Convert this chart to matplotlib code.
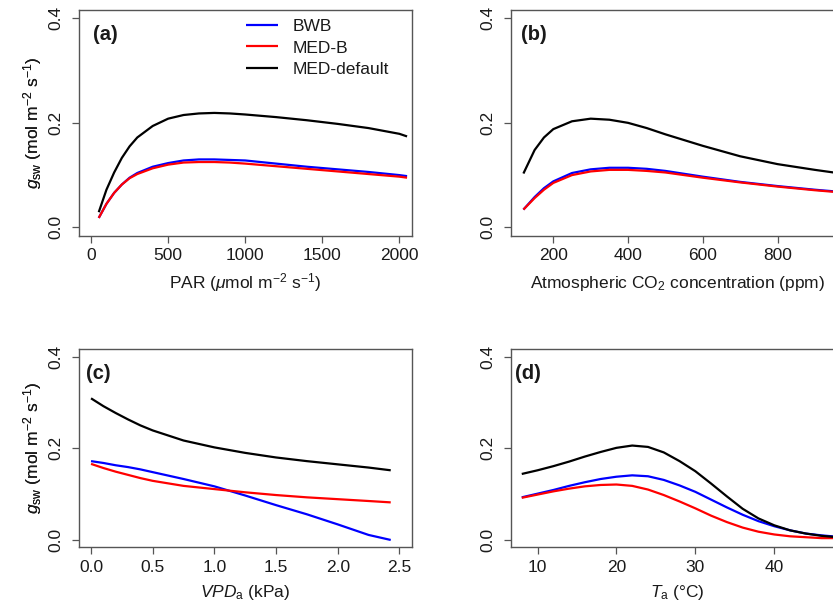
import matplotlib
matplotlib.use("Agg")
import matplotlib.pyplot as plt
from matplotlib.ticker import FixedLocator, FormatStrFormatter

plt.rcParams['font.family'] = ['Liberation Sans', 'DejaVu Sans']
plt.rcParams['mathtext.fontset'] = 'custom'
plt.rcParams['mathtext.rm'] = 'Liberation Sans'
plt.rcParams['mathtext.it'] = 'Liberation Sans:italic'
plt.rcParams['mathtext.bf'] = 'Liberation Sans:bold'

# ---------------- data ----------------
par = [50, 100, 150, 200, 250, 300, 400, 500, 600, 700, 800, 900, 1000, 1200, 1400, 1600, 1800, 2000, 2050]
par_bwb = [0.018, 0.045, 0.066, 0.082, 0.095, 0.104, 0.116, 0.123, 0.128, 0.130, 0.130, 0.129, 0.128, 0.122, 0.116, 0.111, 0.106, 0.100, 0.098]
par_medb = [0.018, 0.045, 0.066, 0.082, 0.094, 0.102, 0.113, 0.120, 0.124, 0.125, 0.125, 0.124, 0.122, 0.117, 0.112, 0.107, 0.102, 0.097, 0.095]
par_medd = [0.029, 0.072, 0.105, 0.133, 0.155, 0.172, 0.194, 0.208, 0.215, 0.218, 0.219, 0.218, 0.216, 0.211, 0.205, 0.198, 0.190, 0.179, 0.174]

co2 = [120, 150, 175, 200, 250, 300, 350, 400, 450, 500, 600, 700, 800, 900, 1000]
co2_bwb = [0.034, 0.058, 0.075, 0.088, 0.104, 0.111, 0.114, 0.114, 0.112, 0.108, 0.097, 0.087, 0.079, 0.072, 0.066]
co2_medb = [0.034, 0.056, 0.072, 0.085, 0.100, 0.107, 0.110, 0.110, 0.108, 0.105, 0.095, 0.086, 0.078, 0.071, 0.065]
co2_medd = [0.103, 0.148, 0.172, 0.188, 0.203, 0.208, 0.206, 0.200, 0.190, 0.178, 0.156, 0.136, 0.121, 0.110, 0.100]

vpd = [0.0, 0.1, 0.2, 0.3, 0.4, 0.5, 0.75, 1.0, 1.25, 1.5, 1.75, 2.0, 2.25, 2.43]
vpd_bwb = [0.172, 0.168, 0.163, 0.159, 0.154, 0.148, 0.133, 0.117, 0.097, 0.076, 0.056, 0.034, 0.011, 0.000]
vpd_medb = [0.166, 0.157, 0.149, 0.142, 0.135, 0.129, 0.118, 0.111, 0.104, 0.098, 0.093, 0.089, 0.085, 0.082]
vpd_medd = [0.309, 0.292, 0.277, 0.263, 0.250, 0.239, 0.217, 0.202, 0.190, 0.180, 0.172, 0.165, 0.158, 0.152]

ta = [8, 10, 12, 14, 16, 18, 20, 22, 24, 26, 28, 30, 32, 34, 36, 38, 40, 42, 44, 46, 48]
ta_bwb = [0.093, 0.101, 0.109, 0.118, 0.126, 0.133, 0.138, 0.141, 0.139, 0.131, 0.119, 0.105, 0.088, 0.071, 0.055, 0.041, 0.030, 0.021, 0.014, 0.010, 0.007]
ta_medb = [0.092, 0.099, 0.106, 0.112, 0.117, 0.120, 0.121, 0.118, 0.110, 0.098, 0.084, 0.069, 0.053, 0.039, 0.027, 0.018, 0.012, 0.008, 0.006, 0.004, 0.004]
ta_medd = [0.144, 0.152, 0.161, 0.171, 0.182, 0.192, 0.201, 0.206, 0.203, 0.191, 0.172, 0.150, 0.123, 0.095, 0.068, 0.047, 0.032, 0.021, 0.014, 0.009, 0.006]

series_names = ["BWB", "MED-B", "MED-default"]
series_colors = ["#0000FF", "#FF0000", "#000000"]
y_ticks = [0.0, 0.2, 0.4]

panels = [
    dict(tag="(a)", x=par, ys=[par_bwb, par_medb, par_medd], xticks=[0, 500, 1000, 1500, 2000],
         xlim=(-80, 2080), xfmt=None, xlabel=r"PAR ($\mu$mol m$^{-2}$ s$^{-1}$)"),
    dict(tag="(b)", x=co2, ys=[co2_bwb, co2_medb, co2_medd], xticks=[200, 400, 600, 800],
         xlim=(86, 977), xfmt=None, xlabel=r"Atmospheric CO$_2$ concentration (ppm)"),
    dict(tag="(c)", x=vpd, ys=[vpd_bwb, vpd_medb, vpd_medd], xticks=[0.0, 0.5, 1.0, 1.5, 2.0, 2.5],
         xlim=(-0.1, 2.6), xfmt="%.1f", xlabel=r"$VPD_{\mathrm{a}}$ (kPa)"),
    dict(tag="(d)", x=ta, ys=[ta_bwb, ta_medb, ta_medd], xticks=[10, 20, 30, 40],
         xlim=(6.6, 48.8), xfmt=None, xlabel=r"$T_{\mathrm{a}}$ (°C)"),
]

W, H = 833, 606
fig = plt.figure(figsize=(W / 100, H / 100), dpi=100)

# axes boxes in pixels: left, top, right, bottom
boxes = [(78.7, 10, 411.7, 235.7), (510.7, 10, 843.7, 235.7),
         (78.7, 349.3, 411.7, 547.3), (510.7, 349.3, 843.7, 547.3)]
tag_pos = [(92.5, 35), (521, 35), (86, 373.5), (515, 373.5)]

FS = 12.5
spine_col = "#555555"
text_col = "#1a1a1a"

axes = []
for p, (l, t, r, b), (tx, ty) in zip(panels, boxes, tag_pos):
    ax = fig.add_axes([l / W, 1 - b / H, (r - l) / W, (b - t) / H])
    axes.append(ax)
    for ys, c, n in zip(p["ys"], series_colors, series_names):
        ax.plot(p["x"], ys, color=c, lw=1.6, label=n, solid_capstyle='butt')
    ax.set_xlim(*p["xlim"])
    ax.set_ylim(-0.016, 0.416)
    ax.xaxis.set_major_locator(FixedLocator(p["xticks"]))
    ax.yaxis.set_major_locator(FixedLocator(y_ticks))
    ax.yaxis.set_major_formatter(FormatStrFormatter("%.1f"))
    if p["xfmt"]:
        ax.xaxis.set_major_formatter(FormatStrFormatter(p["xfmt"]))
    for s in ax.spines.values():
        s.set_color(spine_col)
        s.set_linewidth(1.0)
    ax.tick_params(axis='both', direction='out', length=5, width=0.9, color=spine_col,
                   labelsize=FS, labelcolor=text_col)
    ax.tick_params(axis='x', pad=4)
    ax.tick_params(axis='y', pad=6, labelrotation=90)
    for lab in ax.get_yticklabels():
        lab.set_va('center')
    hpx = b - t
    wpx = r - l
    ax.set_ylabel(r"$g_{\mathrm{sw}}$ (mol m$^{-2}$ s$^{-1}$)", fontsize=FS, color=text_col, va='center')
    ax.yaxis.set_label_coords(-(l - 33) / wpx, 0.5)
    ax.set_xlabel(p["xlabel"], fontsize=FS, color=text_col, va='center')
    ax.xaxis.set_label_coords(0.5, -(283 - 235.7) / hpx if t < 100 else -(593 - 547.3) / hpx)
    ax.text((tx - l) / wpx, 1 - (ty - t) / hpx, p["tag"], transform=ax.transAxes,
            fontsize=14.5, fontweight='bold', ha='left', va='center', color=text_col)

leg = axes[0].legend(loc='upper left', bbox_to_anchor=((246 - 78.7) / 333, 1 - (19 - 10) / 225.7),
                     frameon=False, fontsize=FS, handlelength=1.84, handletextpad=0.86,
                     labelspacing=0.36, borderpad=0, borderaxespad=0)
for txt in leg.get_texts():
    txt.set_color(text_col)

fig.savefig("out.png", dpi=100)
